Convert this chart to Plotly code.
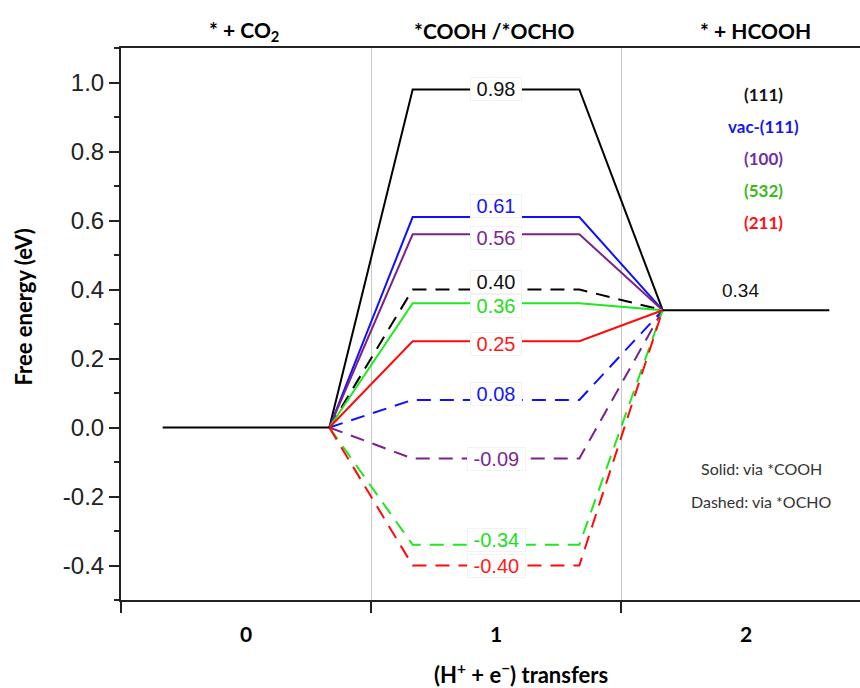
import plotly.graph_objects as go

# ---------------- data ----------------
steps = [0, 1, 2]
step_labels = ["0", "1", "2"]
state_labels = ["* + CO<sub>2</sub>", "*COOH /*OCHO", "* + HCOOH"]
surfaces = ["(111)", "vac-(111)", "(100)", "(532)", "(211)"]
g_initial = 0.0
g_final = 0.34
g_cooh = [0.98, 0.61, 0.56, 0.36, 0.25]     # solid: via *COOH
g_ocho = [0.40, 0.08, -0.09, -0.34, -0.40]  # dashed: via *OCHO
y_tick_vals = [-0.4, -0.2, 0.0, 0.2, 0.4, 0.6, 0.8, 1.0]
y_tick_text = [f"{v:.1f}" for v in y_tick_vals]

# ---------------- styles ----------------
line_colors = ["#000000", "#1010ff", "#7b2288", "#1ee81e", "#ff0a0a"]
label_colors = ["#111111", "#1414ff", "#7b2a8e", "#22dd22", "#ff1a1a"]
legend_colors = ["#111111", "#1515f0", "#7030a0", "#3cb81a", "#ff1010"]
cooh_label_shift = [0, 11, -4, -3, -3]
ocho_label_shift = [8, 6, 0, 5, 0]
legend_y = [0.9165, 0.8584, 0.8004, 0.7423, 0.6842]
half = 1.0 / 3.0

ARIAL = "Liberation Sans, Arial, sans-serif"
CALIBRI = "Lato, Carlito, Calibri, sans-serif"
NB = "\u00a0"

fig = go.Figure()


def path(g):
    xs = [steps[0] + half, steps[1] - half, steps[1] + half, steps[2] - half]
    ys = [g_initial, g, g, g_final]
    return xs, ys


# dashed (OCHO) paths
for name, g, c in zip(surfaces, g_ocho, line_colors):
    xs, ys = path(g)
    fig.add_trace(go.Scatter(x=xs, y=ys, mode="lines", name=name + " OCHO",
                             line=dict(color=c, width=2, dash="14px,9px"),
                             showlegend=False, hoverinfo="skip"))
# solid (COOH) paths
for name, g, c in zip(surfaces, g_cooh, line_colors):
    xs, ys = path(g)
    fig.add_trace(go.Scatter(x=xs, y=ys, mode="lines", name=name + " COOH",
                             line=dict(color=c, width=2),
                             showlegend=False, hoverinfo="skip"))

# common initial / final levels
fig.add_trace(go.Scatter(x=[steps[0] - half, steps[0] + half], y=[g_initial, g_initial],
                         mode="lines", line=dict(color="black", width=2),
                         showlegend=False, hoverinfo="skip"))
fig.add_trace(go.Scatter(x=[steps[2] - half, steps[2] + half], y=[g_final, g_final],
                         mode="lines", line=dict(color="black", width=2),
                         showlegend=False, hoverinfo="skip"))

annotations = []
# value labels
pairs = list(zip(g_cooh, label_colors, cooh_label_shift)) + list(zip(g_ocho, label_colors, ocho_label_shift))
for g, c, s in pairs:
    annotations.append(dict(x=steps[1], y=g, xref="x", yref="y", text=f"{NB}{g:.2f}{NB}",
                            showarrow=False, yshift=s, xanchor="center", yanchor="middle",
                            bgcolor="white", bordercolor="#f2f2f2", borderwidth=1, borderpad=0,
                            font=dict(family=ARIAL, size=20, color=c)))
annotations.append(dict(x=steps[2], y=g_final, xref="x", yref="y", text=f"{g_final:.2f}",
                        showarrow=False, yshift=20, xshift=-6, xanchor="center", yanchor="middle",
                        font=dict(family=ARIAL, size=19, color="#111111")))

# top state labels
for st, lab, dx in zip(steps, state_labels, [-2, -2, 9]):
    annotations.append(dict(x=st, y=1.031, xref="x", yref="paper", text=f"<b>{lab}</b>",
                            showarrow=False, xshift=dx, xanchor="center", yanchor="middle",
                            font=dict(family=CALIBRI, size=21, color="black")))

# surface "legend"
for lab, c, yp in zip(surfaces, legend_colors, legend_y):
    annotations.append(dict(x=0.870, y=yp, xref="paper", yref="paper", text=f"<b>{lab}</b>",
                            showarrow=False, xanchor="center", yanchor="middle",
                            font=dict(family=CALIBRI, size=17, color=c)))

annotations.append(dict(x=0.867, y=0.2377, xref="paper", yref="paper", text="Solid: via *COOH",
                        showarrow=False, xanchor="center", yanchor="middle",
                        font=dict(family=CALIBRI, size=16, color="#333333")))
annotations.append(dict(x=0.867, y=0.1778, xref="paper", yref="paper", text="Dashed: via *OCHO",
                        showarrow=False, xanchor="center", yanchor="middle",
                        font=dict(family=CALIBRI, size=16, color="#333333")))

# axis titles
annotations.append(dict(x=-0.1326, y=0.530, xref="paper", yref="paper",
                        text="<b>Free energy (eV)</b>", textangle=-90, showarrow=False,
                        xanchor="center", yanchor="middle",
                        font=dict(family=CALIBRI, size=22, color="black")))
annotations.append(dict(x=0.541, y=-0.1330, xref="paper", yref="paper",
                        text="<b>(H<sup>+</sup> + e<sup>\u2212</sup>) transfers</b>", showarrow=False,
                        xanchor="center", yanchor="middle",
                        font=dict(family=CALIBRI, size=22, color="black")))

fig.update_layout(
    width=860, height=688,
    margin=dict(l=121, r=0, t=48, b=88),
    paper_bgcolor="white", plot_bgcolor="white",
    showlegend=False,
    annotations=annotations,
    xaxis=dict(
        range=[-0.5, 2.456],
        tickvals=steps, ticktext=[f"<b>{t}</b>" for t in step_labels],
        ticks="", ticklabelstandoff=15,
        tickfont=dict(family=CALIBRI, size=21, color="black"),
        showgrid=False, zeroline=False,
        showline=True, linecolor="#222222", linewidth=2, mirror=True,
        minor=dict(tick0=0.5, dtick=1, ticks="outside", ticklen=11, tickwidth=2,
                   tickcolor="#222222", showgrid=True, gridcolor="#c8c8c8", gridwidth=1),
    ),
    yaxis=dict(
        range=[-0.5, 1.1],
        tickvals=y_tick_vals, ticktext=y_tick_text,
        ticks="outside", ticklen=10, tickwidth=1.5, tickcolor="#222222",
        tickfont=dict(family=ARIAL, size=24, color="#222222"),
        showgrid=False, zeroline=False,
        showline=True, linecolor="#222222", linewidth=2,
        minor=dict(tick0=0, dtick=0.1, ticks="outside", ticklen=5, tickwidth=1.5,
                   tickcolor="#222222", showgrid=False),
    ),
)

fig.write_html("out.html")
